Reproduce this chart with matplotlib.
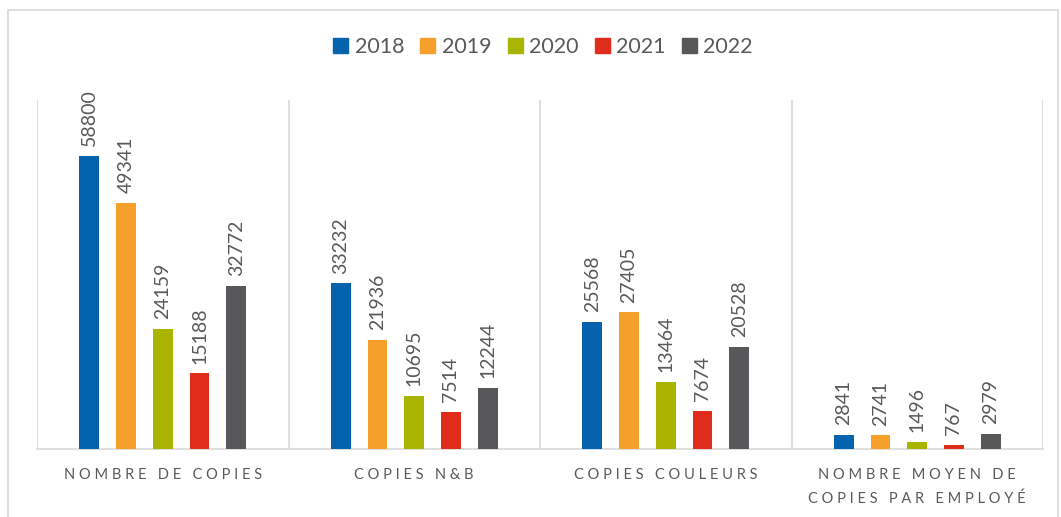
import matplotlib.pyplot as plt
import matplotlib.patches as mpatches
import numpy as np

categories = ["NOMBRE DE COPIES", "COPIES N&B", "COPIES COULEURS", "NOMBRE MOYEN DE\nCOPIES PAR EMPLOYÉ"]
years = ["2018", "2019", "2020", "2021", "2022"]
values = {
    "2018": [58800, 33232, 25568, 2841],
    "2019": [49341, 21936, 27405, 2741],
    "2020": [24159, 10695, 13464, 1496],
    "2021": [15188, 7514, 7674, 767],
    "2022": [32772, 12244, 20528, 2979],
}
colors = ["#0563AE", "#F4A02A", "#A9B400", "#E02D1B", "#58585A"]

plt.rcParams['font.family'] = ['Lato', 'DejaVu Sans']
fig = plt.figure(figsize=(10.61, 5.17), dpi=100)
ax = fig.add_axes([37/1061, 1-449/517, (1043-37)/1061, (449-100)/517])

x = np.arange(len(categories))
w = 0.079
step = 0.146
for i, (yr, c) in enumerate(zip(years, colors)):
    pos = x + (i - 2) * step
    bars = ax.bar(pos, values[yr], width=w, color=c, label=yr, zorder=3)
    for b, v in zip(bars, values[yr]):
        ax.annotate(str(v), (b.get_x() + b.get_width()/2, v), xytext=(0, 7),
                    textcoords="offset points", rotation=90, ha="center", va="bottom",
                    fontsize=14, color="#595959")

ax.set_xlim(-0.5, len(categories) - 0.5)
ax.set_ylim(0, 70000)
ax.set_yticks([])
ax.set_xticks([])
for s in ["top", "right", "left"]:
    ax.spines[s].set_visible(False)
ax.spines["bottom"].set_color("#D9D9D9")
ax.spines["bottom"].set_linewidth(1.2)
for b in np.arange(-0.5, len(categories), 1.0):
    ax.axvline(b, color="#D9D9D9", lw=1.2, zorder=1)

def spaced(s):
    lines = []
    for line in s.split("\n"):
        words = [" ".join(list(wd)) for wd in line.split(" ")]
        lines.append("   ".join(words))
    return "\n".join(lines)

for xi, cat in zip(x, categories):
    ax.text(xi, -0.055, spaced(cat), transform=ax.get_xaxis_transform(), ha="center", va="top",
            fontsize=10.5, color="#595959", linespacing=1.8)

handles = [mpatches.Patch(color=c, label=y) for y, c in zip(years, colors)]
fig.legend(handles=handles, loc="center", bbox_to_anchor=(543/1061, 1-47/517), ncol=5,
           frameon=False, fontsize=15.5, handlelength=0.7, handleheight=0.7, handletextpad=0.3,
           columnspacing=0.75, labelcolor="#595959")

fig.patches.append(mpatches.Rectangle((8/1061, -0.1), (1058-8)/1061, 1.1 - 10/517,
                                      transform=fig.transFigure, fill=False,
                                      edgecolor="#D9D9D9", lw=1.2))
fig.savefig("out.png", dpi=100)
